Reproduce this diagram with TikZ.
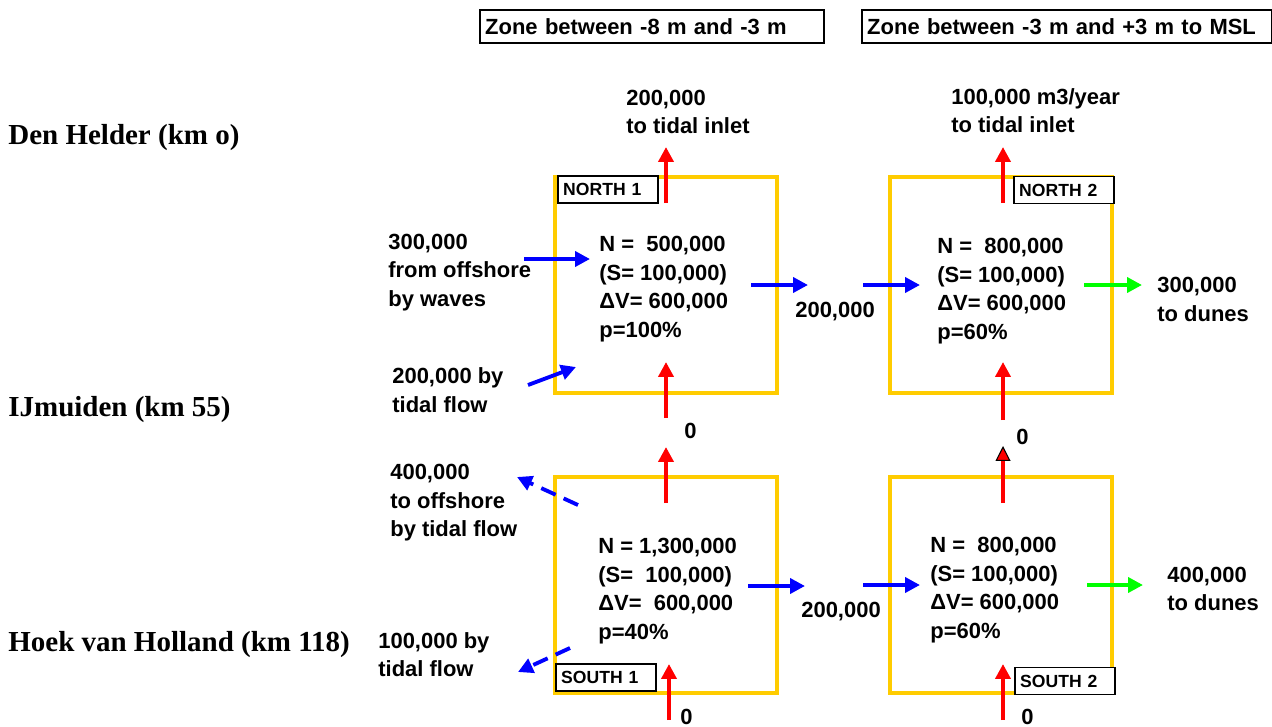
\documentclass[tikz,border=0pt]{standalone}
\usepackage{fontspec}
\usetikzlibrary{arrows.meta}
\newfontfamily\arialfont{Liberation Sans}
\newfontfamily\timesfont{Liberation Serif}
\definecolor{zoneyellow}{RGB}{255,204,0}

\begin{document}
\begin{tikzpicture}[x=0.02cm, y=-0.02cm, node distance=6.7cm,
                zone/.style={draw=zoneyellow, line width=1.9pt, minimum width=4.44cm, minimum height=4.32cm},
                tag/.style={draw, fill=white, line width=1.1pt, text width=1.79cm, minimum height=0.54cm,
                            inner xsep=3pt, inner ysep=0pt, align=left, anchor=west,
                            font=\arialfont\bfseries\fontsize{10}{12}\selectfont},
                head/.style={draw, line width=1.1pt, minimum height=0.66cm, inner xsep=3pt, inner ysep=0pt,
                             align=left, anchor=west, font=\arialfont\bfseries\fontsize{12.5}{15}\selectfont},
                txt/.style={inner sep=0pt, anchor=west, align=left, font=\arialfont\bfseries\fontsize{12.5}{16.2}\selectfont},
                town/.style={inner sep=0pt, anchor=west, font=\timesfont\bfseries\fontsize{16.5}{19}\selectfont},
                flow/.style={line width=2.2pt, -{Triangle[length=8.5pt,width=8.5pt]}},
                redflow/.style={flow, red},
                blueflow/.style={flow, blue},
                greenflow/.style={flow, green},
                backflow/.style={blueflow, dash pattern=on 9pt off 5pt}]

                \useasboundingbox (0,0) rectangle (1272,727);

                % zone headings
                \node[head, text width=6.67cm] (depth1) at (479,26.5) {Zone between -8 m and -3 m};
                \node[head, text width=7.99cm] (depth2) at (861,26.5) {Zone between -3 m and +3 m to MSL};

                % places along the coast
                \node[town] (helder) at (8,138) {Den Helder (km o)};
                \node[town] (ijmuiden) at (8,410) {IJmuiden (km 55)};
                \node[town] (hoek) at (8,645) {Hoek van Holland (km 118)};

                % the four cells
                \node[zone] (n1) at (666,285) {};
                \node[zone] (n2) [right of=n1] {};
                \node[zone] (s1) [node distance=6cm, below of=n1] {};
                \node[zone] (s2) [right of=s1] {};

                \node[tag] (n1tag) at (557,189.5) {NORTH 1};
                \node[tag] (n2tag) at (1013,190) {NORTH 2};
                \node[tag] (s1tag) at (555,677.5) {SOUTH 1};
                \node[tag] (s2tag) at (1014,681) {SOUTH 2};

                \node[txt] (n1val) at (599,289) {N =\ \ 500,000\\(S= 100,000)\\ΔV= 600,000\\p=100\%};
                \node[txt] (n2val) at (937,291) {N =\ \ 800,000\\(S= 100,000)\\ΔV= 600,000\\p=60\%};
                \node[txt] (s1val) at (598,591) {N = 1,300,000\\(S=\ \ 100,000)\\ΔV=\ \ 600,000\\p=40\%};
                \node[txt] (s2val) at (930,590) {N =\ \ 800,000\\(S= 100,000)\\ΔV= 600,000\\p=60\%};

                % flow labels
                \node[txt] (inlet1) at (626,112) {200,000\\to tidal inlet};
                \node[txt] (inlet2) at (951,110.5) {100,000 m3/year\\to tidal inlet};
                \node[txt] (waves) at (388,272.5) {300,000\\from offshore\\by waves};
                \node[txt] (tide1) at (392,390) {200,000 by\\tidal flow};
                \node[txt] (mid1) at (795,312) {200,000};
                \node[txt] (dunes1) at (1157,299.5) {300,000\\to dunes};
                \node[txt] (zero1) at (684,431) {0};
                \node[txt] (zero2) at (1016,437) {0};
                \node[txt] (offshore) at (390,503) {400,000\\to offshore\\by tidal flow};
                \node[txt] (tide2) at (378,654.5) {100,000 by\\tidal flow};
                \node[txt] (mid2) at (801,612) {200,000};
                \node[txt] (dunes2) at (1167,589) {400,000\\to dunes};
                \node[txt] (zero3) at (680,717) {0};
                \node[txt] (zero4) at (1021,717) {0};

                % arrow ends
                \coordinate (n1upA) at (666,203);   \coordinate (n1upB) at (666,147);
                \coordinate (n1inA) at (666,418);   \coordinate (n1inB) at (666,362);
                \coordinate (n2upA) at (1003,203);  \coordinate (n2upB) at (1003,147);
                \coordinate (n2inA) at (1003,420);  \coordinate (n2inB) at (1003,362);
                \coordinate (s1upA) at (666,503);   \coordinate (s1upB) at (666,447);
                \coordinate (s1inA) at (669,720);   \coordinate (s1inB) at (669,664);
                \coordinate (s2upA) at (1003,503);  \coordinate (s2upB) at (1003,446);
                \coordinate (s2inA) at (1003,720);  \coordinate (s2inB) at (1003,664);
                \coordinate (wavesA) at (524,259);  \coordinate (wavesB) at (590,259);
                \coordinate (tideA) at (528,385);   \coordinate (tideB) at (576,367);
                \coordinate (n1outA) at (751,285);  \coordinate (n1outB) at (808,285);
                \coordinate (n2lftA) at (863,285);  \coordinate (n2lftB) at (920,285);
                \coordinate (dune1A) at (1084,285); \coordinate (dune1B) at (1142,285);
                \coordinate (offA) at (578,505);    \coordinate (offB) at (517,477);
                \coordinate (lossA) at (570,648);   \coordinate (lossB) at (518,672);
                \coordinate (s1outA) at (748,586);  \coordinate (s1outB) at (805,586);
                \coordinate (s2lftA) at (863,585);  \coordinate (s2lftB) at (920,585);
                \coordinate (dune2A) at (1087,585); \coordinate (dune2B) at (1143,585);

                \path
                    (n1upA) edge [redflow] (n1upB) % to tidal inlet
                    (n1inA) edge [redflow] (n1inB)
                    (n2upA) edge [redflow] (n2upB)
                    (n2inA) edge [redflow] (n2inB)
                    (s1upA) edge [redflow] (s1upB)
                    (s1inA) edge [redflow] (s1inB)
                    (s2upA) edge [redflow, -{Triangle[length=8.5pt,width=8.5pt,color=black,fill=red,line width=0.6pt]}] (s2upB)
                    (s2inA) edge [redflow] (s2inB)
                    (wavesA) edge [blueflow] (wavesB) % from offshore
                    (tideA) edge [blueflow] (tideB)
                    (n1outA) edge [blueflow] (n1outB)
                    (n2lftA) edge [blueflow] (n2lftB)
                    (s1outA) edge [blueflow] (s1outB)
                    (s2lftA) edge [blueflow] (s2lftB)
                    (offA) edge [backflow] (offB) % losses
                    (lossA) edge [backflow] (lossB)
                    (dune1A) edge [greenflow] (dune1B) % to dunes
                    (dune2A) edge [greenflow] (dune2B);

\end{tikzpicture}
\end{document}
